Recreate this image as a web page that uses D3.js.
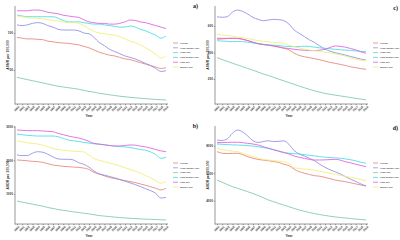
<!DOCTYPE html>
<html lang="en">
<head>
<meta charset="UTF-8">
<title>SDI trends</title>
<style>
  body { margin: 0; background: #fff; }
  svg { display: block; }
</style>
</head>
<body>
<svg id="svg" width="400" height="240"></svg>
<script src="https://d3js.org/d3.v7.min.js"></script>
<script>
// years 1990 - 2019
const years = d3.range(1990, 2020)
const seriesNames = ['Global', 'High-middle SDI', 'High SDI', 'Low-middle SDI', 'Low SDI', 'Middle SDI']
const seriesColors = ['#e6847c', '#8e8de6', '#7ec8a6', '#44dde2', '#df5ddb', '#f1ee72']

// panel a) ASMR
const aGlobal = [94, 93, 92, 92, 91.5, 91, 89, 88, 87, 86.5, 86, 85, 84, 82, 80, 77, 74, 72, 70, 69, 67, 65, 64, 62, 60, 58, 56, 54, 52, 53]
const aHighMiddle = [111, 110, 111, 113, 114, 113, 110, 108, 105, 104, 104, 104, 103, 100, 99, 94, 87, 83, 78, 75, 72, 69, 67, 65, 62, 59, 56, 52, 48, 49]
const aHigh = [40, 38.5, 37, 35.5, 34, 32.5, 31, 29.5, 28, 27, 26, 25, 24, 22.5, 21, 20, 18.5, 17.5, 16.5, 15.5, 14.5, 13.8, 13, 12.4, 11.8, 11.2, 10.7, 10.2, 9.8, 9.5]
const aLowMiddle = [124, 123, 122, 122, 122, 122, 122, 122, 120, 117, 115, 115, 115, 114, 113, 112, 112, 111, 110, 109, 108, 108, 109.5, 108, 105, 103, 100, 97, 93, 96]
const aLow = [130, 130, 130, 131, 131, 130, 128, 127, 126, 124, 123, 122, 121, 118, 115, 114, 113, 113, 112, 112, 113, 115, 117.5, 117, 115, 114, 112, 110, 108, 106]
const aMiddle = [123, 122, 121, 120, 120, 119, 118, 117, 116, 115, 114, 114, 113, 110, 106, 102, 100, 99, 98, 97, 95, 92, 89, 87, 84, 80, 76, 71, 66, 69]

// panel b) ASDR
const bGlobal = [2010, 2000, 1985, 1970, 1960, 1940, 1900, 1860, 1840, 1820, 1810, 1800, 1790, 1770, 1730, 1640, 1590, 1540, 1490, 1460, 1430, 1400, 1370, 1340, 1300, 1260, 1215, 1170, 1120, 1170]
const bHighMiddle = [2160, 2140, 2140, 2210, 2255, 2240, 2180, 2100, 2040, 2030, 2030, 2010, 1930, 1880, 1800, 1680, 1600, 1560, 1520, 1480, 1430, 1380, 1330, 1280, 1220, 1160, 1100, 1020, 880, 900]
const bHigh = [790, 760, 730, 700, 670, 640, 600, 570, 540, 515, 495, 470, 450, 430, 410, 385, 360, 345, 330, 315, 300, 290, 280, 270, 262, 255, 248, 242, 236, 230]
const bLowMiddle = [2780, 2760, 2740, 2730, 2720, 2720, 2720, 2720, 2700, 2650, 2600, 2580, 2560, 2530, 2510, 2490, 2480, 2460, 2440, 2420, 2405, 2400, 2380, 2350, 2320, 2300, 2250, 2170, 2060, 2090]
const bLow = [2900, 2890, 2880, 2880, 2880, 2870, 2860, 2850, 2800, 2760, 2720, 2690, 2660, 2620, 2560, 2500, 2480, 2460, 2440, 2425, 2425, 2440, 2455, 2450, 2420, 2400, 2360, 2320, 2280, 2255]
const bMiddle = [2580, 2550, 2520, 2500, 2485, 2450, 2400, 2350, 2320, 2300, 2280, 2270, 2260, 2250, 2150, 2050, 2000, 1960, 1920, 1880, 1830, 1780, 1730, 1680, 1620, 1550, 1480, 1400, 1320, 1365]

// panel c) ASMR
const cGlobal = [500, 502, 505, 507, 505, 500, 490, 476, 468, 460, 455, 448, 440, 432, 420, 395, 378, 368, 360, 353, 345, 335, 325, 318, 310, 302, 292, 285, 278, 273]
const cHighMiddle = [670, 666, 670, 705, 720, 710, 690, 665, 650, 640, 645, 650, 648, 640, 615, 570, 545, 520, 495, 475, 450, 425, 410, 398, 390, 380, 370, 360, 350, 343]
const cHigh = [361, 347, 333, 319, 306, 293, 279, 266, 252, 238, 226, 213, 199, 186, 173, 160, 146, 134, 122, 110, 100, 91, 84, 78, 72, 66, 60, 54, 48, 42]
const cLowMiddle = [489, 486, 484, 482, 483, 482, 478, 472, 466, 462, 458, 455, 452, 448, 445, 444, 445, 448, 446, 440, 435, 432, 428, 424, 420, 418, 415, 412, 408, 406]
const cLow = [507, 507, 507, 507, 507, 500, 490, 478, 466, 460, 455, 450, 443, 434, 430, 424, 420, 417, 414, 414, 418, 424, 438, 449, 446, 440, 430, 420, 405, 394]
const cMiddle = [537, 532, 527, 522, 517, 512, 505, 498, 490, 484, 480, 476, 474, 470, 455, 444, 435, 425, 418, 414, 408, 402, 397, 390, 382, 372, 358, 350, 342, 336]

// panel d) ASDR
const dGlobal = [7565, 7450, 7430, 7440, 7450, 7350, 7200, 7085, 7000, 6950, 6910, 6850, 6780, 6650, 6550, 6300, 6110, 6000, 5900, 5820, 5780, 5700, 5600, 5500, 5440, 5380, 5300, 5220, 5140, 5070]
const dHighMiddle = [8415, 8380, 8500, 8900, 9140, 9000, 8700, 8365, 8240, 8300, 8360, 8300, 8320, 8350, 8100, 7650, 7400, 7250, 7080, 6900, 6650, 6430, 6250, 6100, 5950, 5750, 5560, 5400, 5220, 5070]
const dHigh = [5505, 5340, 5180, 5020, 4900, 4780, 4650, 4520, 4380, 4220, 4050, 3930, 3800, 3680, 3560, 3440, 3325, 3230, 3140, 3060, 2990, 2930, 2870, 2820, 2780, 2740, 2700, 2660, 2630, 2600]
const dLowMiddle = [8125, 8100, 8080, 8060, 8050, 8030, 8000, 7980, 7920, 7860, 7810, 7720, 7620, 7520, 7450, 7420, 7400, 7350, 7300, 7260, 7200, 7170, 7140, 7110, 7085, 7040, 6980, 6900, 6800, 6720]
const dLow = [8220, 8230, 8240, 8250, 8250, 8220, 8170, 8125, 8050, 7930, 7810, 7700, 7600, 7490, 7400, 7250, 7150, 7080, 7000, 6960, 6960, 6970, 6990, 7010, 6950, 6830, 6750, 6650, 6560, 6475]
const dMiddle = [7810, 7720, 7650, 7600, 7565, 7450, 7330, 7200, 7100, 7000, 6960, 6910, 6880, 6835, 6700, 6400, 6350, 6300, 6285, 6220, 6130, 6060, 5995, 5920, 5840, 5760, 5700, 5620, 5540, 5455]

const aTicks = [50, 100]
const bTicks = [1000, 2000, 3000]
const cTicks = [200, 400, 600]
const dTicks = [4000, 6000, 8000]

const svg = d3.select('#svg')

function drawPanel(p) {
  const g = svg.append('g').attr('transform', `translate(${p.x0}, ${p.y0})`)

  // plot box: axis from x 15 to 168, y 6 to 104
  const xscale = d3.scaleLinear().domain([1990, 2019]).range([17, 166])
  const yscale = d3.scaleLinear().domain(p.yDomain).range([104, 6])

  const line = d3.line()
    .x((d, i) => xscale(years[i]))
    .y(d => yscale(d))
    .curve(d3.curveMonotoneX)

  g.selectAll('path.series')
    .data(p.series)
    .enter()
    .append('path')
    .attr('class', 'series')
    .attr('d', d => line(d))
    .attr('fill', 'none')
    .attr('stroke', (d, i) => seriesColors[i])
    .attr('stroke-width', 0.85)

  // axes
  const bottomAxis = d3.axisBottom(xscale).tickValues(years).tickFormat(d3.format('d')).tickSize(1.2).tickPadding(0.8)
  const xg = g.append('g')
    .attr('transform', 'translate(0, 104)')
    .call(bottomAxis)
  xg.select('.domain').attr('d', 'M15,0.5V0H168')
  xg.selectAll('text')
    .attr('text-anchor', 'end')
    .attr('transform', 'rotate(-45)')
    .attr('dx', '-0.3em')
    .attr('dy', '0.6em')
    .style('font-size', '2.8px')
    .style('font-family', 'Liberation Sans, Arial, sans-serif')
    .style('font-weight', 'bold')
    .attr('fill', '#333')

  const leftAxis = d3.axisLeft(yscale).tickValues(p.ticks).tickFormat(d3.format('d')).tickSize(1.2).tickPadding(1)
  const yg = g.append('g')
    .attr('transform', 'translate(15, 0)')
    .call(leftAxis)
  yg.select('.domain').attr('d', 'M0,6V104')
  yg.selectAll('text')
    .style('font-size', '3px')
    .style('font-family', 'Liberation Sans, Arial, sans-serif')
    .style('font-weight', 'bold')
    .attr('fill', '#333')

  g.selectAll('.domain, .tick line').attr('stroke', '#555').attr('stroke-width', 0.6)

  // axis titles
  g.append('text')
    .attr('x', 89)
    .attr('y', 117)
    .attr('text-anchor', 'middle')
    .style('font-family', 'Liberation Sans, Arial, sans-serif')
    .style('font-size', '3.4px')
    .style('font-weight', 'bold')
    .attr('fill', '#333')
    .text('Year')
  g.append('text')
    .attr('transform', 'translate(8.5, 55)rotate(-90)')
    .attr('text-anchor', 'middle')
    .style('font-family', 'Liberation Sans, Arial, sans-serif')
    .style('font-size', '3.4px')
    .style('font-weight', 'bold')
    .attr('fill', '#333')
    .text(p.ytitle)

  // panel letter
  g.append('text')
    .attr('x', p.letterX)
    .attr('y', p.letterY)
    .attr('text-anchor', 'end')
    .style('font-family', 'Liberation Serif, Times New Roman, serif')
    .style('font-size', '6px')
    .style('font-weight', 'bold')
    .attr('fill', '#111')
    .text(p.letter)

  // legend
  const legend = g.append('g').attr('transform', `translate(${p.legX}, 43)`)
  const items = legend.selectAll('g')
    .data(seriesNames)
    .enter()
    .append('g')
    .attr('transform', (d, i) => `translate(0, ${i * 4.8})`)
  items.append('line')
    .attr('x1', 0).attr('x2', 5)
    .attr('y1', 0).attr('y2', 0)
    .attr('stroke', (d, i) => seriesColors[i])
    .attr('stroke-width', 0.8)
  items.append('text')
    .attr('x', 7)
    .attr('y', 0)
    .attr('dy', '0.35em')
    .style('font-family', 'Liberation Sans, Arial, sans-serif')
    .style('font-size', '2.5px')
    .style('font-weight', 'bold')
    .attr('fill', '#555')
    .text(d => d)
}

drawPanel({ x0: 0, y0: 0, yDomain: [4, 136.5], ticks: aTicks, ytitle: 'ASMR per 100,000', letter: 'a)', letterX: 198, letterY: 8, legX: 173,
  series: [aGlobal, aHighMiddle, aHigh, aLowMiddle, aLow, aMiddle] })
drawPanel({ x0: 0, y0: 120, yDomain: [110, 3018], ticks: bTicks, ytitle: 'ASDR per 100,000', letter: 'b)', letterX: 198, letterY: 8, legX: 173,
  series: [bGlobal, bHighMiddle, bHigh, bLowMiddle, bLow, bMiddle] })
drawPanel({ x0: 200, y0: 0, yDomain: [11, 751], ticks: cTicks, ytitle: 'ASMR per 100,000', letter: 'c)', letterX: 198, letterY: 10, legX: 173,
  series: [cGlobal, cHighMiddle, cHigh, cLowMiddle, cLow, cMiddle] })
drawPanel({ x0: 200, y0: 120, yDomain: [2305, 9433], ticks: dTicks, ytitle: 'ASDR per 100,000', letter: 'd)', letterX: 198, letterY: 10, legX: 173,
  series: [dGlobal, dHighMiddle, dHigh, dLowMiddle, dLow, dMiddle] })
</script>
</body>
</html>
